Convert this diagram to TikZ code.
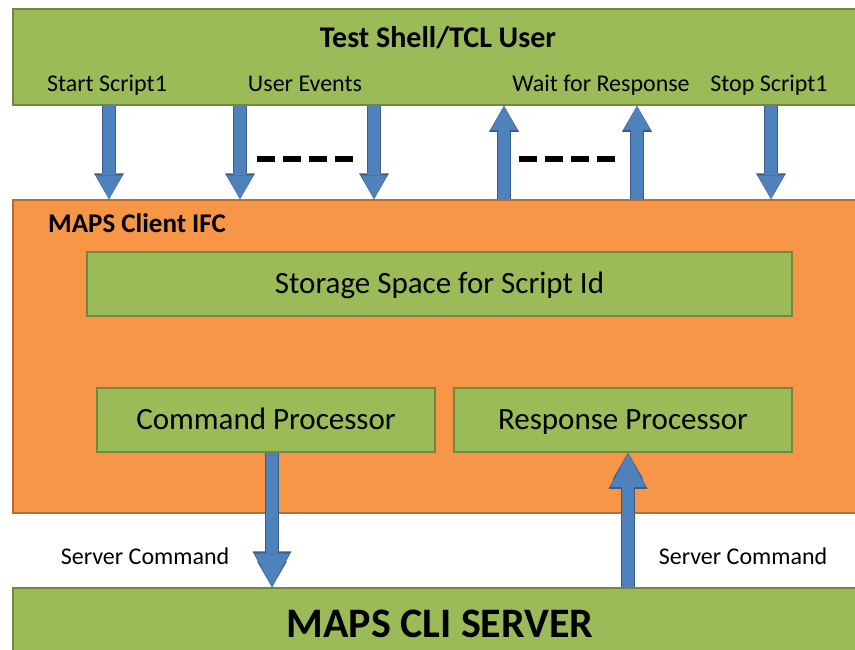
\documentclass[tikz,border=0pt]{standalone}
\usepackage{fontspec}
\setmainfont{Carlito}
\usetikzlibrary{positioning,calc,arrows.meta}
\definecolor{boxgreen}{HTML}{9BBB59}
\definecolor{boxgreenD}{HTML}{71893F}
\definecolor{boxorange}{HTML}{F79646}
\definecolor{boxorangeD}{HTML}{B66D31}
\definecolor{arrblue}{HTML}{4F81BD}
\definecolor{arrblueD}{HTML}{385D8A}
\tikzset{gbox/.style={draw=boxgreenD, line width=1.5pt, fill=boxgreen, inner sep=0pt, text height=22pt, text depth=4pt, font=\fontsize{31}{37}\selectfont}}
\tikzset{obox/.style={draw=boxorangeD, line width=1.5pt, fill=boxorange, inner sep=0pt}}
\tikzset{lbl/.style={inner sep=0pt, anchor=base, font=\fontsize{24}{28}\selectfont}}
\tikzset{barr/.style={draw=arrblue, line width=12pt, -{Triangle[length=24pt,width=26pt,line width=0pt]},
  preaction={draw=arrblueD, line width=14pt, -{Triangle[length=26pt,width=30pt,line width=0pt]}}}}
\tikzset{barr2/.style={barr, -{Triangle[length=34pt,width=35pt,line width=0pt]},
  preaction={draw=arrblueD, line width=14pt, -{Triangle[length=36pt,width=39pt,line width=0pt]}}}}
\tikzset{ellip/.style={draw=black, line width=6pt, dash pattern=on 18pt off 8pt}}

\begin{document}
\begin{tikzpicture}[x=1pt, y=-1pt]
\useasboundingbox (0,0) rectangle (855,649);
% boxes
\node[gbox, minimum width=845pt, minimum height=96pt] (tcl) at (435.5,57) {};
\node[obox, minimum width=845pt, minimum height=313pt] (client) at (435.5,356.5) {};
\node[gbox, minimum width=705pt, minimum height=64pt] (storage) at (439.5,284) {Storage Space for Script Id};
\node[gbox, minimum width=338pt, minimum height=64pt] (cmdproc) at (266,420) {Command Processor};
\node[gbox, minimum width=338pt, minimum height=64pt] (respproc) at (623,420) {Response Processor};
\node[gbox, minimum width=845pt, minimum height=74pt] (server) at (435.5,625) {};
% texts
\node[lbl, font=\fontsize{30}{36}\selectfont\bfseries] (title) at (438,47) {Test Shell/TCL User};
\node[lbl] (startlbl) at (107,91) {Start Script1};
\node[lbl] (eventlbl) at (305,91) {User Events};
\node[lbl] (waitlbl) at (601,91) {Wait for Response};
\node[lbl] (stoplbl) at (769,91) {Stop Script1};
\node[lbl, anchor=base west, font=\fontsize{27}{32}\selectfont\bfseries] (clientlbl) at (48,232) {MAPS Client IFC};
\node[lbl] (cmdlbl) at (145,564) {Server Command};
\node[lbl] (resplbl) at (743,564) {Server Command};
\node[lbl, font=\fontsize{42}{48}\selectfont\bfseries] (serverlbl) at (440,637) {MAPS CLI SERVER};
% arrow columns
\coordinate (ca) at (109,0);
\coordinate (cb) at (240,0);
\coordinate (cc) at (374,0);
\coordinate (cd) at (504,0);
\coordinate (ce) at (637,0);
\coordinate (cf) at (771,0);
\coordinate (cg) at (272,0);
\coordinate (ch) at (628,0);
\draw[barr] (tcl.south -| ca) -- (client.north -| ca);
\draw[barr] (tcl.south -| cb) -- (client.north -| cb);
\draw[barr] (tcl.south -| cc) -- (client.north -| cc);
\draw[barr] (client.north -| cd) -- (tcl.south -| cd);
\draw[barr] (client.north -| ce) -- (tcl.south -| ce);
\draw[barr] (tcl.south -| cf) -- (client.north -| cf);
\draw[barr2] (cmdproc.south -| cg) -- (server.north -| cg);
\draw[barr2] (server.north -| ch) -- (respproc.south -| ch);
% dashes
\draw[ellip] (257,159) -- (353,159);
\draw[ellip] (519,159) -- (615,159);
\end{tikzpicture}
\end{document}
